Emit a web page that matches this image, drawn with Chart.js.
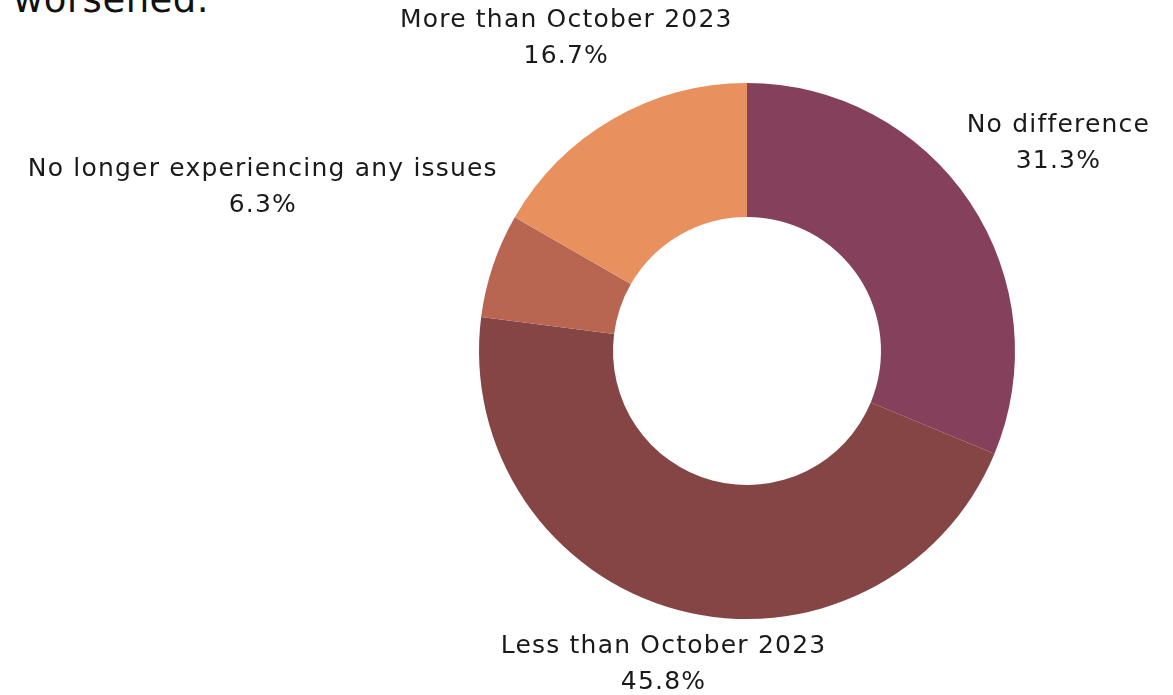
<!DOCTYPE html>
<html>
<head>
<meta charset="utf-8">
<script src="https://cdn.jsdelivr.net/npm/chart.js@4.4.0/dist/chart.umd.min.js"></script>
<style>
  html, body { margin: 0; padding: 0; background: #fff; }
  #wrap { position: relative; width: 1173px; height: 695px; overflow: hidden; }
  #title { position: absolute; left: 13px; top: -22px; font-family: 'DejaVu Sans', sans-serif; font-size: 37px; letter-spacing: 0.5px; color: #111; }
  canvas { position: absolute; left: 0; top: 0; }
</style>
</head>
<body>
<div id="wrap">
  <div id="title">worsened.</div>
  <canvas id="pie" width="1173" height="695"></canvas>
</div>
<script>
const labels = ['No difference', 'Less than October 2023', 'No longer experiencing any issues', 'More than October 2023'];
const shares = [31.3, 45.8, 6.3, 16.7];
const colors = ['#85405C', '#864545', '#B86652', '#E8915F'];

const labelFont = '25px "DejaVu Sans", sans-serif';

// labels outside the ring, pushed along the mid-angle until the text box clears the ring
const outsideLabels = {
  id: 'outsideLabels',
  afterDatasetsDraw(chart) {
    const ctx = chart.ctx;
    const arcs = chart.getDatasetMeta(0).data;
    ctx.save();
    ctx.font = labelFont;
    ctx.letterSpacing = '1.2px';
    ctx.fillStyle = '#1a1a1a';
    ctx.textAlign = 'center';
    ctx.textBaseline = 'middle';
    const lineGap = 36;
    arcs.forEach((arc, i) => {
      const mid = (arc.startAngle + arc.endAngle) / 2;
      const ux = Math.cos(mid), uy = Math.sin(mid);
      const line1 = labels[i];
      const line2 = shares[i].toFixed(1) + '%';
      const w = Math.max(ctx.measureText(line1).width, ctx.measureText(line2).width);
      const h = lineGap + 26;
      const target = arc.outerRadius + 14;
      let lo = 0, hi = 1000;
      for (let k = 0; k < 40; k++) {
        const d = (lo + hi) / 2;
        const cx = d * ux, cy = d * uy;
        const nx = Math.max(Math.abs(cx) - w / 2, 0);
        const ny = Math.max(Math.abs(cy) - h / 2, 0);
        if (Math.hypot(nx, ny) < target) lo = d; else hi = d;
      }
      const px = arc.x + lo * ux, py = arc.y + lo * uy;
      ctx.fillText(line1, px, py - lineGap / 2);
      ctx.fillText(line2, px, py + lineGap / 2);
    });
    ctx.restore();
  }
};

new Chart(document.getElementById('pie').getContext('2d'), {
  type: 'doughnut',
  data: {
    labels: labels,
    datasets: [{
      data: shares,
      backgroundColor: colors,
      borderWidth: 0
    }]
  },
  options: {
    responsive: false,
    animation: false,
    cutout: '50%',
    layout: { padding: { top: 83, bottom: 76, left: 479, right: 158 } },
    plugins: {
      legend: { display: false },
      tooltip: { enabled: false }
    }
  },
  plugins: [outsideLabels]
});
</script>
</body>
</html>
